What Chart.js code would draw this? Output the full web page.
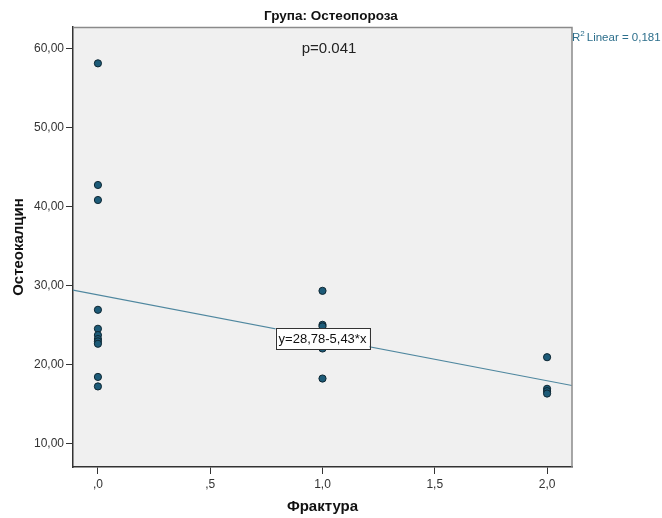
<!DOCTYPE html>
<html>
<head>
<meta charset="utf-8">
<script src="https://cdn.jsdelivr.net/npm/chart.js@4/dist/chart.umd.min.js"></script>
<style>
  body { margin: 0; background: #fff; }
  #wrap { width: 662px; height: 518px; }
</style>
</head>
<body>
<div id="wrap"><canvas id="graph1" width="662" height="518"></canvas></div>
<script>
// Фрактура (0, 1, 2) и остеокалцин, група остеопороза
const fractura = [0, 0, 0, 0, 0, 0, 0, 0, 0, 0, 0, 1, 1, 1, 1, 1, 2, 2, 2, 2];
const osteocalcin = [58.1, 42.7, 40.8, 26.9, 24.5, 23.7, 23.2, 22.9, 22.6, 18.4, 17.2,
                     29.3, 25.0, 24.8, 22.0, 18.2,
                     20.9, 16.9, 16.6, 16.3];

// линеарна регресија y = 28,78 - 5,43*x
const intercept = 28.78;
const slope = -5.43;

const xRange = [-0.111, 2.111];
const yRange = [7.0, 62.7];
const xTicks = [0, 0.5, 1, 1.5, 2];
const xTickLabels = [',0', ',5', '1,0', '1,5', '2,0'];
const yTicks = [10, 20, 30, 40, 50, 60];
const yTickLabels = ['10,00', '20,00', '30,00', '40,00', '50,00', '60,00'];

const points = fractura.map((f, i) => ({ x: f, y: osteocalcin[i] }));
const fitLine = xRange.map(x => ({ x: x, y: intercept + slope * x }));

const FONT = '"Liberation Sans", Arial, sans-serif';
const teal = '#2d6f8c';

const spssDecor = {
    id: 'spssDecor',
    beforeDraw(chart) {
        const { ctx, chartArea: a } = chart;
        ctx.save();
        ctx.fillStyle = '#f0f0f0';
        ctx.fillRect(a.left, a.top, a.right - a.left, a.bottom - a.top);
        ctx.restore();
    },
    afterDraw(chart) {
        const { ctx, chartArea: a } = chart;
        ctx.save();
        // рамка горе и десно
        ctx.strokeStyle = '#8a8a8a';
        ctx.lineWidth = 1.5;
        ctx.beginPath();
        ctx.moveTo(a.left, a.top + 0.5);
        ctx.lineTo(a.right, a.top + 0.5);
        ctx.lineTo(a.right, a.bottom);
        ctx.stroke();

        // наслов
        ctx.fillStyle = '#111';
        ctx.textAlign = 'center';
        ctx.textBaseline = 'middle';
        ctx.font = 'bold 13.5px ' + FONT;
        ctx.fillText('Група: Остеопороза', 331, 16);

        ctx.font = '15px ' + FONT;
        ctx.fillStyle = '#222';
        ctx.fillText('p=0.041', 329, 49);

        // R² ознака
        ctx.fillStyle = teal;
        ctx.textAlign = 'left';
        ctx.font = '11.5px ' + FONT;
        let x = 572;
        ctx.fillText('R', x, 38);
        x += ctx.measureText('R').width;
        ctx.font = '8px ' + FONT;
        ctx.fillText('2', x, 34);
        x += ctx.measureText('2').width + 2;
        ctx.font = '11.5px ' + FONT;
        ctx.fillText('Linear = 0,181', x, 38);

        // равенка на правата
        const sx = chart.scales.x, sy = chart.scales.y;
        const cx = sx.getPixelForValue(1.0), cy = sy.getPixelForValue(23.25);
        ctx.font = '13px ' + FONT;
        const label = 'y=28,78-5,43*x';
        const w = ctx.measureText(label).width + 6;
        const h = 21;
        ctx.fillStyle = '#fff';
        ctx.fillRect(cx - w / 2, cy - h / 2, w, h);
        ctx.strokeStyle = '#333';
        ctx.lineWidth = 1;
        ctx.strokeRect(Math.round(cx - w / 2) + 0.5, Math.round(cy - h / 2) + 0.5, Math.round(w), h);
        ctx.fillStyle = '#111';
        ctx.textAlign = 'center';
        ctx.fillText(label, cx, cy + 1);
        ctx.restore();
    }
};

const config = {
    type: 'scatter',
    data: {
        datasets: [{
            label: 'Остеокалцин',
            data: points,
            backgroundColor: '#1d5b78',
            borderColor: '#0e2733',
            borderWidth: 1,
            pointRadius: 3.6
        }, {
            type: 'line',
            label: 'R2 Linear',
            data: fitLine,
            borderColor: '#4f879f',
            borderWidth: 1.2,
            pointRadius: 0,
            fill: false
        }]
    },
    options: {
        responsive: false,
        animation: false,
        layout: { padding: { top: 27, right: 90, left: 0, bottom: 0 } },
        plugins: {
            legend: { display: false },
            tooltip: { enabled: false }
        },
        scales: {
            x: {
                type: 'linear',
                min: xRange[0],
                max: xRange[1],
                afterBuildTicks: s => { s.ticks = xTicks.map(v => ({ value: v })); },
                afterFit: s => { s.height = 51; },
                grid: { drawOnChartArea: false, drawTicks: true, tickLength: 7, color: '#333' },
                border: { display: true, color: '#333', width: 1.5 },
                ticks: {
                    padding: 3,
                    color: '#333',
                    font: { family: FONT, size: 12 },
                    callback: (v, i) => xTickLabels[i]
                },
                title: {
                    display: true,
                    text: 'Фрактура',
                    color: '#111',
                    font: { family: FONT, size: 15, weight: 'bold' },
                    padding: { top: 0, bottom: 2 }
                }
            },
            y: {
                type: 'linear',
                min: yRange[0],
                max: yRange[1],
                afterBuildTicks: s => { s.ticks = yTicks.map(v => ({ value: v })); },
                afterFit: s => { s.width = 73; },
                grid: { drawOnChartArea: false, drawTicks: true, tickLength: 7, color: '#333' },
                border: { display: true, color: '#333', width: 1.5 },
                ticks: {
                    padding: 2,
                    color: '#333',
                    font: { family: FONT, size: 12 },
                    callback: (v, i) => yTickLabels[i]
                },
                title: {
                    display: true,
                    text: 'Остеокалцин',
                    color: '#111',
                    font: { family: FONT, size: 15, weight: 'bold' },
                    padding: { top: 10, bottom: 0 }
                }
            }
        }
    },
    plugins: [spssDecor]
};

new Chart(document.querySelector('#graph1'), config);
</script>
</body>
</html>
